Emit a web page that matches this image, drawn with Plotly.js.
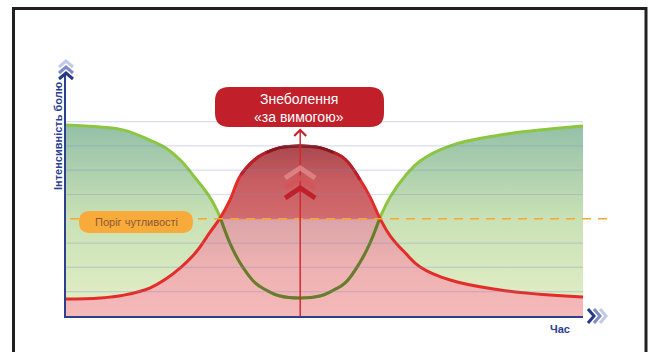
<!DOCTYPE html>
<html><head><meta charset="utf-8">
<script src="https://cdn.plot.ly/plotly-3.0.1.min.js"></script>
<style>html,body{margin:0;padding:0;background:#fff;} #chart{width:650px;height:352px;}</style>
</head><body><div id="chart"></div>
<script>
// ---- data ----
const time = [0, 6.6, 11.2, 16.2, 19.3, 22.1, 25.0, 27.9, 29.8, 31.7, 33.8, 36.6, 38.7, 41.4, 45.3, 49.1, 51.8, 54.0, 56.9, 58.8, 60.7, 62.7, 65.6, 68.5, 74.3, 84.0, 93.6, 100];
const greenCurve = [7.86, 7.78, 7.65, 7.24, 6.91, 6.42, 5.68, 4.86, 4.07, 3.00, 2.14, 1.36, 1.07, 0.82, 0.74, 0.82, 1.07, 1.36, 2.22, 3.00, 4.03, 4.90, 5.76, 6.38, 7.00, 7.45, 7.70, 7.82];
const redCurve   = [0.70, 0.74, 0.86, 1.15, 1.52, 1.98, 2.59, 3.46, 4.03, 4.77, 5.80, 6.45, 6.72, 6.93, 7.00, 6.93, 6.72, 6.45, 5.60, 4.90, 4.03, 3.30, 2.60, 2.02, 1.48, 1.07, 0.86, 0.78];
const threshold = 4;
const gridLevels = [1, 2, 3, 5, 6, 7, 8];
const yAxisLabel = 'Інтенсивність болю';
const xAxisLabel = 'Час';
const thresholdLabel = 'Поріг чутливості';
const calloutLines = ['Знеболення', '«за вимогою»'];

// ---- geometry helpers (pixel -> paper) ----
const L = 66, R = 583, T = 73, B = 316;
const PX = p => (p - L) / (R - L);
const PY = p => (B - p) / (B - T);
const pt = (x, y) => PX(x).toFixed(5) + ',' + PY(y).toFixed(5);
function chev(cx, cy, w, h, dir) {
  if (dir === 'up') return 'M' + pt(cx - w/2, cy + h/2) + ' L' + pt(cx, cy - h/2) + ' L' + pt(cx + w/2, cy + h/2);
  return 'M' + pt(cx - h/2, cy - w/2) + ' L' + pt(cx + h/2, cy) + ' L' + pt(cx - h/2, cy + w/2);
}
function rrect(x0, y0, x1, y1, r) {
  return 'M' + pt(x0 + r, y0) + ' L' + pt(x1 - r, y0) + ' Q' + pt(x1, y0) + ' ' + pt(x1, y0 + r) +
    ' L' + pt(x1, y1 - r) + ' Q' + pt(x1, y1) + ' ' + pt(x1 - r, y1) +
    ' L' + pt(x0 + r, y1) + ' Q' + pt(x0, y1) + ' ' + pt(x0, y1 - r) +
    ' L' + pt(x0, y0 + r) + ' Q' + pt(x0, y0) + ' ' + pt(x0 + r, y0) + ' Z';
}
function seg(arrX, arrY, cond) {
  const xs = [], ys = [];
  arrX.forEach((v, i) => { if (cond(i)) { xs.push(v); ys.push(arrY[i]); } });
  return {x: xs, y: ys};
}

const SM = 1.2;
const between = i => redCurve[i] >= greenCurve[i] - 0.05;
const gMid = seg(time, greenCurve, between);
const rMid = seg(time, redCurve, i => redCurve[i] >= 5.0);
const rTop = seg(time, redCurve, i => redCurve[i] >= 6.7);
const peakIdx = redCurve.indexOf(Math.max(...redCurve));
const peakTime = time[peakIdx];
const peakPx = L + peakTime / 100 * (R - L);

const traces = [
  {x: time, y: greenCurve, mode: 'lines', line: {width: 0, shape: 'spline', smoothing: SM}, fill: 'tozeroy',
   fillgradient: {type: 'vertical', start: 0, stop: 8, colorscale: [[0, '#e4efc7'], [0.5, '#c9e1b5'], [1, '#92bfa8']]}, hoverinfo: 'skip'},
  {x: time, y: redCurve, mode: 'lines', line: {width: 0, shape: 'spline', smoothing: SM}, fill: 'tozeroy',
   fillgradient: {type: 'vertical', start: 0, stop: 7, colorscale: [[0, '#f5b9b9'], [0.3, '#eeb1b1'], [0.565, '#dba5a7'], [0.575, '#d26b6d'], [0.8, '#c75d61'], [1, '#a9484f']]}, hoverinfo: 'skip'},
  {x: time, y: greenCurve, mode: 'lines', line: {color: '#8cc63f', width: 3, shape: 'spline', smoothing: SM}},
  {x: gMid.x, y: gMid.y, mode: 'lines', line: {color: '#6c7932', width: 3, shape: 'spline', smoothing: SM}},
  {x: time, y: redCurve, mode: 'lines', line: {color: '#e42c2a', width: 3, shape: 'spline', smoothing: SM}},
  {x: rMid.x, y: rMid.y, mode: 'lines', line: {color: '#b5202a', width: 3, shape: 'spline', smoothing: SM}},
  {x: rTop.x, y: rTop.y, mode: 'lines', line: {color: '#84191f', width: 3, shape: 'spline', smoothing: SM}}
];

const shapes = [];
gridLevels.forEach(v => shapes.push({type: 'line', xref: 'paper', yref: 'y', x0: 0, x1: 1, y0: v, y1: v,
  line: {color: 'rgba(120,135,200,0.28)', width: 1.2}, layer: 'above'}));
shapes.push({type: 'line', xref: 'paper', yref: 'y', x0: PX(70), x1: PX(612), y0: threshold, y1: threshold,
  line: {color: '#f6a733', width: 1.5, dash: '9px,7px'}, layer: 'above'});
shapes.push({type: 'line', xref: 'x', yref: 'paper', x0: peakTime, x1: peakTime, y0: 0, y1: PY(130),
  line: {color: '#d22a30', width: 1.5}, layer: 'above'});
shapes.push({type: 'path', xref: 'paper', yref: 'paper', path: chev(peakPx, 133, 12, 6, 'up'), line: {color: '#c8202a', width: 2.2}, layer: 'above'});
[[173, 'rgba(232,140,140,0.75)'], [183, 'rgba(214,82,88,0.85)'], [193, '#c11f2a']].forEach(c =>
  shapes.push({type: 'path', xref: 'paper', yref: 'paper', path: chev(peakPx, c[0], 30, 10, 'up'), line: {color: c[1], width: 5}, layer: 'above'}));
[[64, '#c3cae6'], [70, '#7d8cc4'], [76, '#27398a']].forEach(c =>
  shapes.push({type: 'path', xref: 'paper', yref: 'paper', path: chev(66, c[0], 14, 6, 'up'), line: {color: c[1], width: 3}, layer: 'above'}));
[[603, '#c3cae6'], [597, '#7d8cc4'], [591, '#27398a']].forEach(c =>
  shapes.push({type: 'path', xref: 'paper', yref: 'paper', path: chev(c[0], 316, 14, 6, 'right'), line: {color: c[1], width: 3}, layer: 'above'}));
shapes.push({type: 'path', xref: 'paper', yref: 'paper', path: rrect(215, 87, 384, 127, 14), fillcolor: '#c1202b', line: {width: 0}, layer: 'above'});
shapes.push({type: 'path', xref: 'paper', yref: 'paper', path: rrect(79, 211, 193, 233, 11), fillcolor: '#f8ab3b', line: {width: 0}, layer: 'above'});
shapes.push({type: 'rect', xref: 'paper', yref: 'paper', x0: PX(13.5), x1: PX(646), y0: PY(8.5), y1: PY(380),
  line: {color: '#231f20', width: 3}, fillcolor: 'rgba(0,0,0,0)', layer: 'above'});

const FONT = 'Liberation Sans Narrow, Liberation Sans, Arial, sans-serif';
const ann = (text, x, y, size, color, extra) => Object.assign({text: text, xref: 'paper', yref: 'paper', x: PX(x), y: PY(y),
  showarrow: false, xanchor: 'center', yanchor: 'middle', font: {family: FONT, size: size, color: color}}, extra || {});

const annotations = [
  ann(calloutLines[0], 299, 99, 14, '#ffffff'),
  ann(calloutLines[1], 299, 117, 14, '#ffffff'),
  ann(thresholdLabel, 136, 222, 11, '#8b5a35'),
  ann('<b>' + yAxisLabel + '</b>', 58, 136, 11, '#2b3d8f', {textangle: -90}),
  ann('<b>' + xAxisLabel + '</b>', 560, 329, 11, '#2b3d8f')
];

const axisCommon = {showline: true, linecolor: '#2e3f8f', linewidth: 2, showgrid: false, zeroline: false,
  showticklabels: false, ticks: '', fixedrange: true};

Plotly.newPlot('chart', traces, {
  width: 650, height: 352,
  margin: {l: L, r: 650 - R, t: T, b: 352 - B, pad: 0},
  paper_bgcolor: '#ffffff', plot_bgcolor: '#ffffff',
  showlegend: false,
  xaxis: Object.assign({range: [0, 100]}, axisCommon),
  yaxis: Object.assign({range: [0, 10]}, axisCommon),
  shapes: shapes, annotations: annotations
}, {staticPlot: true, displayModeBar: false});
</script></body></html>
